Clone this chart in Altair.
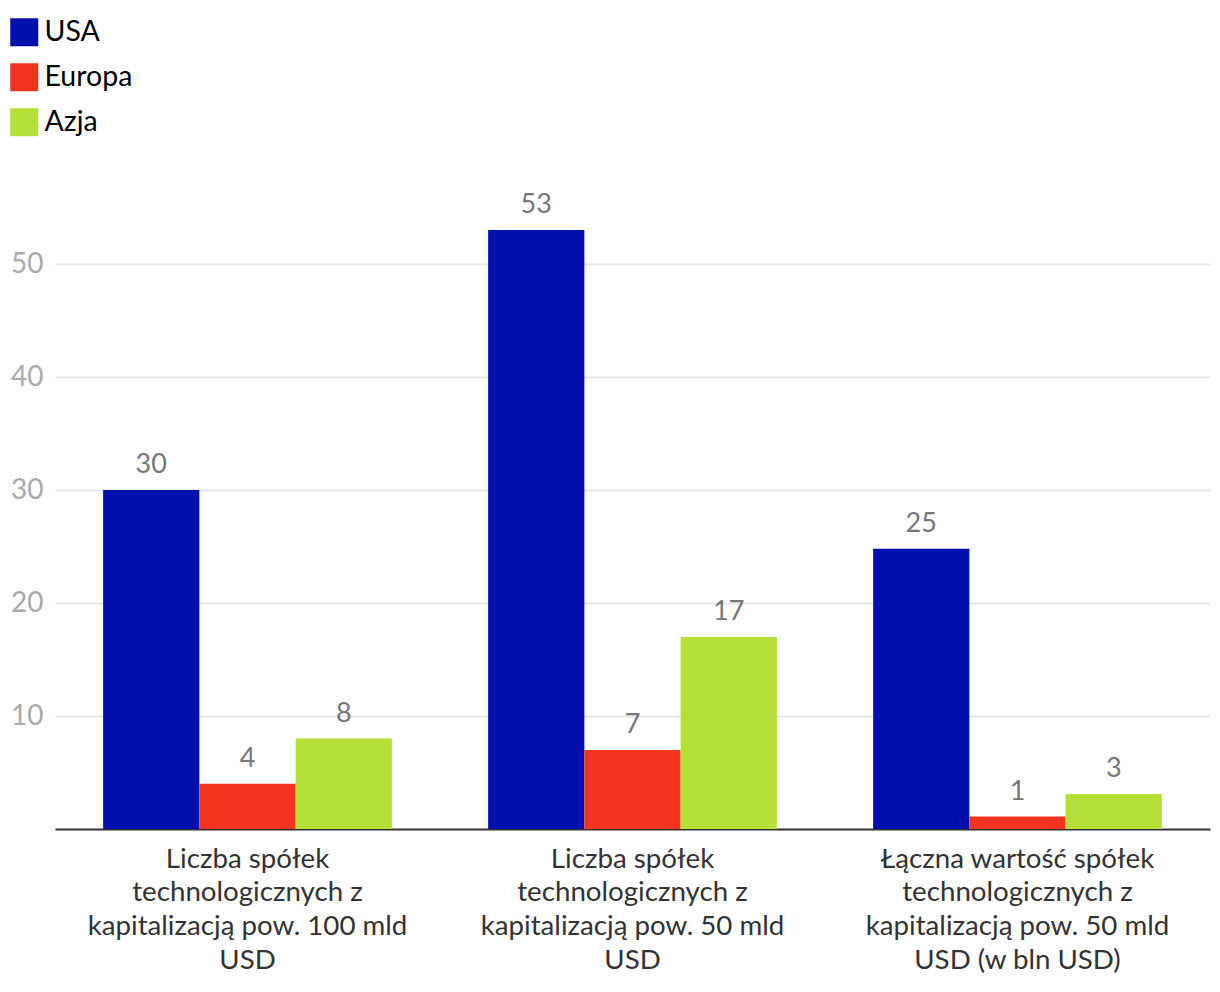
import altair as alt
import pandas as pd

categories = [
    "Liczba spółek\ntechnologicznych z\nkapitalizacją pow. 100 mld\nUSD",
    "Liczba spółek\ntechnologicznych z\nkapitalizacją pow. 50 mld\nUSD",
    "Łączna wartość spółek\ntechnologicznych z\nkapitalizacją pow. 50 mld\nUSD (w bln USD)",
]
series = ["USA", "Europa", "Azja"]
usa = [30, 53, 24.8]
europa = [4, 7, 1.1]
azja = [8, 17, 3.1]
colors = ["#0010ae", "#f2341e", "#b3df37"]

rows = []
for name, vals in zip(series, [usa, europa, azja]):
    for c, v in zip(categories, vals):
        rows.append({"category": c, "series": name, "value": v})
df = pd.DataFrame(rows)

x = alt.X("category:N", sort=categories, title=None,
          scale=alt.Scale(paddingInner=0.25, paddingOuter=0.125),
          axis=alt.Axis(labelAngle=0, labelExpr="split(datum.label, '\\n')",
                        labelFont="Lato", labelFontSize=27.7, labelColor="#333333",
                        labelLineHeight=33.7, labelPadding=16, labelBaseline="top",
                        ticks=False, domainColor="#333333", domainWidth=2,
                        labelLimit=450, grid=False))
xo = alt.XOffset("series:N", sort=series, scale=alt.Scale(paddingInner=0, paddingOuter=0))
y = alt.Y("value:Q", title=None,
          scale=alt.Scale(domain=[0, 60], nice=False),
          axis=alt.Axis(values=[10, 20, 30, 40, 50], domain=False, ticks=False,
                        labelFont="Lato", labelFontSize=28, labelColor="#aaaaaa",
                        labelPadding=12, gridColor="#e6e6e6", gridWidth=2))
color = alt.Color("series:N", sort=series,
                  scale=alt.Scale(domain=series, range=colors),
                  legend=alt.Legend(title=None, orient="none", legendX=-45, legendY=-133,
                                    symbolType="square", symbolSize=784, symbolStrokeWidth=0,
                                    symbolOpacity=1, labelFont="Lato", labelFontSize=28.5,
                                    labelColor="#000000", rowPadding=16, labelOffset=6,
                                    labelLimit=300))

bars = alt.Chart(df).mark_bar(opacity=1).encode(x=x, xOffset=xo, y=y, color=color)
labels = alt.Chart(df).mark_text(font="Lato", fontSize=27, color="#777777",
                                 baseline="alphabetic", dy=-17).encode(
    x=x, xOffset=xo, y=y, text=alt.Text("value:Q", format=".0f"))

chart = alt.layer(bars, labels).properties(
    width=1155, height=678,
    autosize=alt.AutoSizeParams(type="none"),
    padding={"left": 47, "top": 143, "right": 2, "bottom": 160},
).configure(background="white").configure_view(stroke=None)

chart.save("out.html", embed_options={"renderer": "svg", "actions": False})
